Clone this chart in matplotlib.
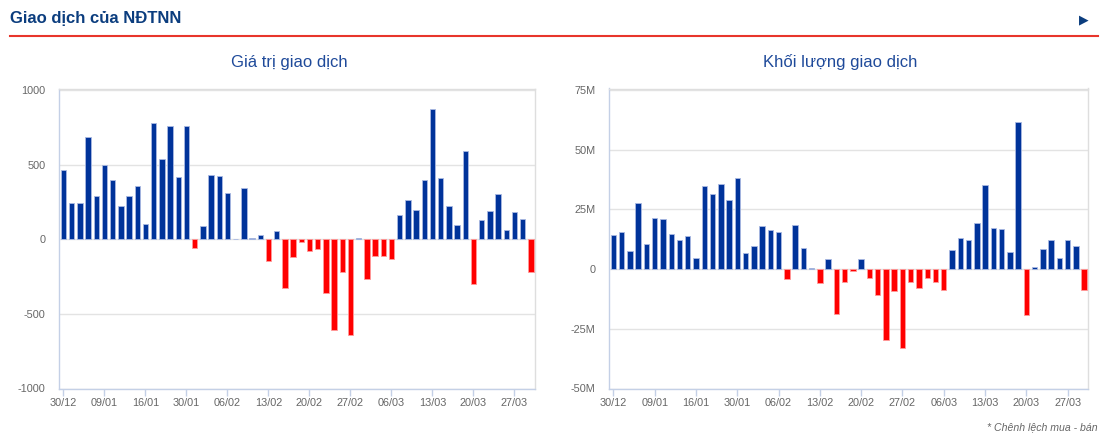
import matplotlib.pyplot as plt
from matplotlib.ticker import FixedLocator

plt.rcParams["font.family"] = ["Liberation Sans", "DejaVu Sans"]

dates = [
    "30/12", "03/01", "04/01", "05/01", "06/01", "09/01", "10/01", "11/01", "12/01", "13/01",
    "16/01", "17/01", "18/01", "19/01", "27/01", "30/01", "31/01", "01/02", "02/02", "03/02",
    "06/02", "07/02", "08/02", "09/02", "10/02", "13/02", "14/02", "15/02", "16/02", "17/02",
    "20/02", "21/02", "22/02", "23/02", "24/02", "27/02", "28/02", "01/03", "02/03", "03/03",
    "06/03", "07/03", "08/03", "09/03", "10/03", "13/03", "14/03", "15/03", "16/03", "17/03",
    "20/03", "21/03", "22/03", "23/03", "24/03", "27/03", "28/03", "29/03",
]

# net value (tỷ đồng)
gia_tri = [
    462, 244, 244, 682, 287, 500, 400, 220, 293, 356,
    104, 780, 538, 762, 418, 762, -60, 87, 431, 424,
    307, 0, 344, 11, 31, -144, 56, -324, -118, -18,
    -80, -67, -362, -611, -218, -644, 7, -269, -111, -111,
    -129, 162, 264, 193, 400, 876, 411, 220, 96, 589,
    -298, 131, 187, 300, 64, 182, 138, -218,
]

# net volume (millions of shares)
khoi_luong = [
    14.3, 15.5, 7.5, 27.6, 10.4, 21.3, 20.9, 14.6, 12.2, 13.9,
    4.7, 34.7, 31.5, 35.8, 29.1, 38.0, 6.7, 9.6, 18.2, 16.3,
    15.5, -4.2, 18.5, 8.8, 0.4, -6.0, 4.3, -18.7, -5.6, -0.6,
    4.3, -3.8, -10.7, -29.5, -9.2, -33.1, -5.3, -8.1, -3.8, -5.3,
    -8.9, 7.9, 12.9, 12.1, 19.2, 35.4, 17.3, 16.6, 7.1, 61.5,
    -19.3, 0.8, 8.4, 12.1, 4.5, 12.1, 9.6, -8.9,
]

tick_idx = list(range(0, len(dates), 5))

BLUE = "#00339a"
RED = "#ff0000"
GREY = "#666666"
TITLE = "#1f4a9a"

W, H = 1113, 445
fig = plt.figure(figsize=(W / 100, H / 100), dpi=100, facecolor="white")


def px_axes(x0, x1, y_top, y_bot):
    return fig.add_axes([x0 / W, 1 - y_bot / H, (x1 - x0) / W, (y_bot - y_top) / H])


def draw(ax, values, ylim, yticks, ylabels, title, title_x):
    x = range(len(values))
    colors = [BLUE if v >= 0 else RED for v in values]
    edges = ["#a9b9e2" if v >= 0 else "#ff9a9a" for v in values]
    ax.bar(x, values, width=0.66, color=colors, edgecolor=edges, linewidth=0.6, zorder=3)
    ax.set_xlim(-0.5, len(values) - 0.5)
    ax.set_ylim(*ylim)
    ax.yaxis.set_major_locator(FixedLocator(yticks))
    ax.set_yticklabels(ylabels)
    ax.set_xticks(tick_idx)
    ax.set_xticklabels([dates[i] for i in tick_idx])
    ax.grid(axis="y", color="#e3e3e3", linewidth=1, zorder=0)
    ax.tick_params(axis="y", length=0, pad=10, labelsize=7.8, labelcolor=GREY)
    ax.tick_params(axis="x", length=5, width=1, color="#c4d0e6", pad=2,
                   labelsize=7.8, labelcolor=GREY)
    for side in ("left", "bottom"):
        ax.spines[side].set_color("#c4d0e6")
    for side in ("top", "right"):
        ax.spines[side].set_color("#dedede")
    for s in ax.spines.values():
        s.set_linewidth(1)
    fig.text(title_x / W, 1 - 62 / H, title, ha="center", va="center",
             fontsize=12, color=TITLE)


ax1 = px_axes(59.3, 535, 88.5, 388.5)
draw(ax1, gia_tri, (-1000, 1010), [-1000, -500, 0, 500, 1000],
     ["-1000", "-500", "0", "500", "1000"], "Giá trị giao dịch", 289)

ax2 = px_axes(609.3, 1088.3, 88.5, 388.5)
draw(ax2, khoi_luong, (-50, 75.6), [-50, -25, 0, 25, 50, 75],
     ["-50M", "-25M", "0", "25M", "50M", "75M"], "Khối lượng giao dịch", 840)

# header
fig.text(10 / W, 1 - 18 / H, "Giao dịch của NĐTNN", ha="left", va="center",
         fontsize=12, fontweight="bold", color="#0b3d7e")
fig.add_artist(plt.Line2D([10 / W, 1098 / W], [1 - 35.5 / H, 1 - 35.5 / H],
                          color="#e8352b", linewidth=1.5))
fig.text(1084 / W, 1 - 20 / H, "▶", ha="center", va="center", fontsize=9,
         color="#0b3d7e", family="DejaVu Sans")
fig.text(1098 / W, 1 - 427 / H, "* Chênh lệch mua - bán", ha="right", va="center",
         fontsize=7.6, style="italic", color=GREY)

fig.savefig("out.png", dpi=100, facecolor="white")
